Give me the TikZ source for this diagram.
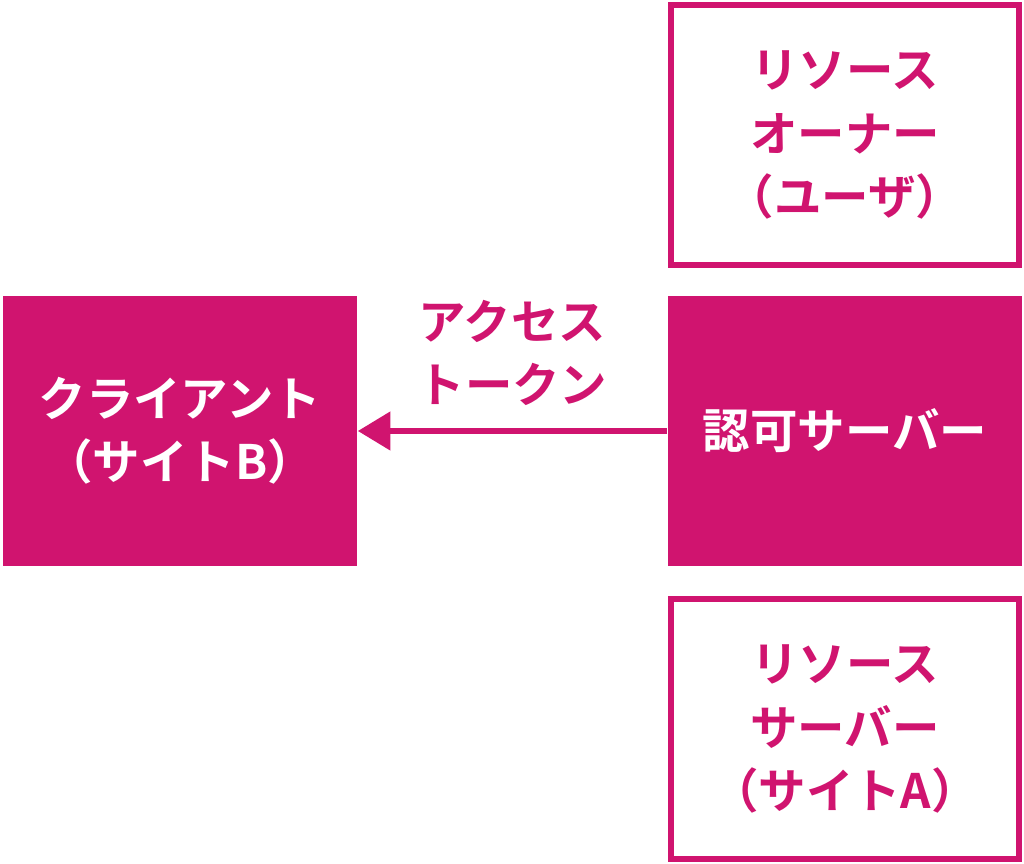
\documentclass[tikz,border=0pt]{standalone}
\usepackage{fontspec}
\setmainfont{Noto Sans CJK JP}[BoldFont={Noto Sans CJK JP Bold}]
\usetikzlibrary{arrows.meta}
\definecolor{magentared}{HTML}{D0146F}
\begin{document}
\begin{tikzpicture}[
x=0.02cm, y=-0.02cm,
every node/.style = {shape=rectangle, align=center, font=\fontsize{27}{36}\selectfont\bfseries, inner sep=0pt},
outlinebox/.style = {draw=magentared, line width=0.12cm, text=magentared, minimum width=6.96cm, minimum height=5.2cm},
filledbox/.style = {fill=magentared, text=white, minimum width=7.1cm, minimum height=5.4cm},
]
  \useasboundingbox (0,0) rectangle (1024,864);
  \node[outlinebox] (owner) at (845,135) {リソース\\オーナー\\（ユーザ）};
  \node[filledbox] (client) at (180,431) {クライアント\\（サイトB）};
  \node[filledbox] (auth) at (845,431) {認可サーバー};
  \node[outlinebox] (resource) at (845,729) {リソース\\サーバー\\（サイトA）};
  \draw[magentared, line width=0.12cm, -{Triangle[length=0.65cm,width=0.75cm]}] (auth.west) -- (client.east)
    node[midway, above=0.45cm, text=magentared] (token) {アクセス\\トークン};
\end{tikzpicture}
\end{document}
